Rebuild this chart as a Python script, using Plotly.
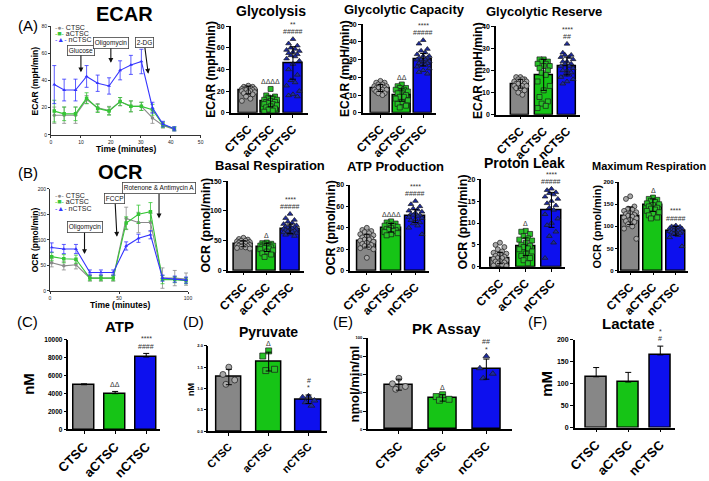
import plotly.graph_objects as go

W, H = 709, 481
FONT = "Arial, Liberation Sans, sans-serif"

groups = ["CTSC", "aCTSC", "nCTSC"]

# ---- (A) ECAR time course ----
ecar_time = [1.1, 4.4, 8.2, 11.9, 15.6, 19.4, 23.1, 26.7, 30.2, 33.9, 37.4, 41.2]
ecar_ctsc = [14.5, 14.5, 14.5, 26, 20, 18, 24.5, 21, 21, 12.5, 7, 4]
ecar_ctsc_err = [6, 6, 6, 3, 3, 3, 3, 4, 3, 4, 2, 1]
ecar_actsc = [17.5, 15.5, 15.5, 27, 19.5, 17.5, 24.5, 21, 21, 18.5, 7.5, 4.5]
ecar_actsc_err = [8, 5, 5, 4, 3, 3, 3, 4, 3, 4, 2, 1.5]
ecar_nctsc = [37, 33, 33, 43, 38, 36, 47.5, 51.5, 54, 20, 8, 4.5]
ecar_nctsc_err = [14, 8, 8, 8, 6, 6, 7, 7, 9, 4, 2, 1.5]
ecar_inj = ["Glucose", "Oligomycin", "2-DG"]
ecar_inj_time = [10, 20, 32.5]
ecar_inj_level = [46, 53, 45]

# ---- (B) OCR time course ----
ocr_time = [1.2, 10, 18.8, 28.9, 36.9, 45.8, 55.2, 64.1, 72.8, 81.5, 90.4, 98.6]
ocr_ctsc = [55, 49, 51, 25, 25, 25, 142, 134, 134, 25, 25, 23]
ocr_ctsc_err = [8, 8, 8, 6, 6, 6, 22, 20, 18, 20, 15, 12]
ocr_actsc = [67, 63, 62, 25, 25, 25, 133, 150, 155, 22, 22, 20]
ocr_actsc_err = [8, 8, 8, 5, 5, 5, 12, 18, 18, 8, 6, 6]
ocr_nctsc = [85, 82, 82, 36, 36, 36, 88, 103, 110, 25, 23, 21]
ocr_nctsc_err = [9, 9, 9, 5, 5, 5, 8, 8, 8, 6, 6, 6]
ocr_inj = ["Oligomycin", "FCCP", "Rotenone & Antimycin A"]
ocr_inj_time = [25, 48.5, 79]
ocr_inj_level = [72, 106, 142]

# ---- ECAR bar panels ----
glyco_mean = [21, 10.5, 46]
glyco_sd = [3.5, 5, 15]
glyco_ctsc = [25, 24, 24, 23, 23, 22, 22, 22, 21, 21, 21, 20, 20, 19, 19, 18, 17, 15, 13, 11]
glyco_actsc = [22, 16, 15, 14, 13, 12, 12, 11, 10, 10, 9, 8, 8, 7, 6, 5, 4, 3, 2, 1]
glyco_nctsc = [68, 64, 62, 60, 59, 58, 57, 56, 55, 54, 53, 52, 50, 48, 45, 40, 35, 30, 28, 25, 20, 17, 16, 15]
glyco_marks = ["", "ΔΔΔΔ", "**<br>#####"]

capac_mean = [14, 10, 30]
capac_sd = [2, 3.5, 3.5]
capac_ctsc = [18, 17, 17, 16, 16, 15, 15, 15, 14, 14, 14, 13, 13, 13, 12, 12, 11, 11, 10]
capac_actsc = [16, 15, 14, 14, 13, 13, 12, 11, 11, 10, 9, 9, 8, 7, 6, 5, 4, 3]
capac_nctsc = [41, 39, 36, 35, 34, 33, 32, 32, 31, 31, 30, 30, 30, 29, 29, 28, 28, 27, 27, 26, 25, 24, 23, 22]
capac_marks = ["", "ΔΔ", "****<br>#####"]

reserve_mean = [14, 18, 22]
reserve_sd = [2, 7, 4]
reserve_ctsc = [17, 17, 16, 16, 16, 15, 15, 15, 14, 14, 14, 13, 13, 13, 12, 12, 11, 10, 9]
reserve_actsc = [25, 25, 24, 24, 23, 23, 22, 22, 21, 20, 19, 18, 15, 13, 11, 8, 6, 5, 4, 3]
reserve_nctsc = [32, 28, 27, 27, 26, 26, 25, 24, 24, 23, 23, 22, 22, 21, 20, 20, 19, 18, 18, 17, 16, 15, 14]
reserve_marks = ["", "", "****<br>##"]

# ---- OCR bar panels ----
basal_mean = [45, 39, 70]
basal_sd = [5, 7, 8]
basal_ctsc = [55, 53, 52, 50, 50, 49, 48, 47, 47, 46, 45, 45, 44, 43, 42, 42, 41, 40, 39, 38, 37]
basal_actsc = [47, 46, 45, 44, 43, 42, 42, 41, 40, 39, 38, 37, 36, 34, 32, 29, 27, 23]
basal_nctsc = [95, 88, 85, 82, 80, 78, 76, 75, 74, 73, 72, 71, 70, 70, 69, 68, 67, 66, 65, 64, 63, 62, 60, 58]
basal_marks = ["", "Δ", "****<br>#####"]

atpprod_mean = [28, 40, 51]
atpprod_sd = [6, 4, 6]
atpprod_ctsc = [40, 38, 37, 36, 35, 34, 33, 32, 31, 30, 29, 29, 28, 27, 26, 25, 24, 23, 22, 21, 20, 12]
atpprod_actsc = [46, 45, 44, 43, 42, 42, 41, 40, 39, 38, 38, 37, 36, 35, 34, 33]
atpprod_nctsc = [65, 62, 60, 58, 57, 56, 55, 54, 53, 52, 52, 51, 50, 49, 48, 47, 45, 44, 42, 40, 34]
atpprod_marks = ["", "ΔΔΔΔ", "****<br>#####"]

leak_mean = [2, 4.6, 13]
leak_sd = [1.3, 2, 4]
leak_ctsc = [5.5, 5, 4.5, 4, 3.5, 3.2, 3, 2.8, 2.5, 2.3, 2, 2, 1.8, 1.5, 1.3, 1.2, 1, 0.8, 0.5, 0.3, 0.2]
leak_actsc = [8.2, 8, 7.5, 7, 6.5, 6.2, 6, 5.5, 5, 4.8, 4.5, 4.2, 4, 3.5, 3, 2.5, 2, 1.5, 0.8]
leak_nctsc = [17.8, 17.5, 17, 16.8, 16.5, 16, 15.5, 15, 14.5, 14, 13.5, 13, 12, 11, 10, 9.5, 8, 7, 5.5, 2]
leak_marks = ["", "Δ", "****<br>#####"]

maxresp_mean = [124, 148, 90]
maxresp_sd = [20, 14, 10]
maxresp_ctsc = [168, 162, 145, 140, 138, 135, 132, 130, 128, 126, 124, 122, 120, 118, 115, 112, 110, 105, 100, 95, 72]
maxresp_actsc = [165, 162, 160, 158, 155, 152, 150, 148, 145, 142, 140, 138, 135, 132, 128, 125, 120, 118]
maxresp_nctsc = [102, 100, 99, 98, 97, 96, 95, 94, 93, 92, 91, 90, 89, 88, 87, 86, 85, 83, 80, 75, 55]
maxresp_marks = ["", "Δ", "****<br>#####"]

# ---- bottom row ----
atp_mean = [5000, 4000, 8100]
atp_sd = [100, 250, 400]
atp_marks = ["", "ΔΔ", "****<br>####"]

pyr_mean = [1.27, 1.63, 0.75]
pyr_sd = [0.18, 0.22, 0.1]
pyr_ctsc = [1.5, 1.33, 1.2, 1.1]
pyr_actsc = [1.88, 1.76, 1.45, 1.42]
pyr_nctsc = [0.82, 0.8, 0.72, 0.68, 0.6]
pyr_marks = ["", "Δ", "#<br>*"]

pk_mean = [49, 34.5, 66]
pk_sd = [6, 3.5, 11]
pk_ctsc = [56, 50, 47, 44]
pk_actsc = [38, 36, 33, 32]
pk_nctsc = [80, 67, 61, 56]
pk_marks = ["", "Δ", "##<br>*"]

lac_mean = [116, 104, 166]
lac_sd = [21, 22, 20]
lac_marks = ["", "", "*<br>#"]

BAR_COL = ["#878787", "#16c416", "#0d10ee"]
PT_COL = ["#a9a9a9", "#27c227", "#1c2a9e"]
PT_SYM = ["circle", "square", "triangle-up"]
LINE_COL = ["#8a8a8a", "#36c636", "#3434ff"]
LINE_SYM = ["circle", "square", "triangle-up"]

fig = go.Figure()
layout = {}
annotations = []


def names(i):
    s = "" if i == 1 else str(i)
    return "x" + s, "y" + s, "xaxis" + s, "yaxis" + s


def xdom(a, b):
    return [a / W, b / W]


def ydom(top, bot):
    return [1 - bot / H, 1 - top / H]


def text(px, py, s, size, bold=False, angle=0, color="black"):
    annotations.append(dict(
        x=px / W, y=1 - py / H, xref="paper", yref="paper", text=s,
        showarrow=False, textangle=angle, xanchor="center", yanchor="middle",
        font=dict(family=FONT, size=size, color=color, weight=700 if bold else 400)))


def line_panel(i, box, xr, xdt, yr, ydt, t, ys, errs, inj, inj_t, inj_y, offs):
    left, right, top, bot = box
    xa, ya, xk, yk = names(i)
    for g in range(3):
        fig.add_trace(go.Scatter(
            x=t, y=ys[g], mode="lines+markers", xaxis=xa, yaxis=ya, showlegend=False,
            line=dict(color=LINE_COL[g], width=1.1),
            marker=dict(symbol=LINE_SYM[g], size=3.5, color=LINE_COL[g]),
            error_y=dict(type="data", array=errs[g], color=LINE_COL[g], thickness=0.8, width=2)))
    common = dict(showline=True, linecolor="#333", linewidth=0.8, ticks="outside", ticklen=2,
                  tickwidth=0.8, tickcolor="#333", showgrid=False, zeroline=False,
                  tickfont=dict(family=FONT, size=5, color="#222"))
    layout[xk] = dict(domain=xdom(left, right), range=xr, dtick=xdt, anchor=ya, **common)
    layout[yk] = dict(domain=ydom(top, bot), range=yr, dtick=ydt, anchor=xa, **common)
    for name, tx, ty, (ax, ay) in zip(inj, inj_t, inj_y, offs):
        annotations.append(dict(
            x=tx, y=ty, xref=xa, yref=ya, text=name, showarrow=True, arrowhead=2,
            arrowsize=0.9, arrowwidth=1.1, arrowcolor="#111", ax=ax, ay=ay,
            bordercolor="#444", borderwidth=0.8, borderpad=1, bgcolor="white",
            font=dict(family=FONT, size=6.5, color="#111")))


def legend_block(px, py, step):
    syms = ["●", "■", "▲"]
    for g in range(3):
        annotations.append(dict(
            x=px / W, y=1 - (py + g * step) / H, xref="paper", yref="paper", showarrow=False,
            xanchor="left", yanchor="middle",
            text="<span style='color:%s'>-%s-</span> %s" % (LINE_COL[g], syms[g], groups[g]),
            font=dict(family=FONT, size=7, color="#222")))


def spread(n, bw):
    pattern = [0, -0.55, 0.55, -0.27, 0.27, -0.8, 0.8]
    return [pattern[k % len(pattern)] * bw * 0.42 for k in range(n)]


def bar_panel(i, box, ymax, ydt, bw, means, sds, pts, marks, up_only=False,
              tick_size=7, cat_size=12, pt_size=5, mark_size=7, fmt="d"):
    left, right, c0, s, top, bot = box
    xa, ya, xk, yk = names(i)
    xs = [0, 1, 2]
    fig.add_trace(go.Bar(
        x=xs, y=means, width=bw, xaxis=xa, yaxis=ya, showlegend=False,
        marker=dict(color=BAR_COL, line=dict(color="black", width=1.5))))
    tops = [means[g] + sds[g] for g in range(3)]
    if pts:
        for g, vals in enumerate(pts):
            off = spread(len(vals), bw)
            fig.add_trace(go.Scatter(
                x=[g + o for o in off], y=vals, mode="markers", xaxis=xa, yaxis=ya,
                showlegend=False,
                marker=dict(symbol=PT_SYM[g], size=pt_size, color=PT_COL[g],
                            line=dict(color="#1a1a1a", width=0.7))))
            tops[g] = max(tops[g], max(vals))
    err = dict(type="data", array=sds, color="black", thickness=1, width=3)
    if up_only:
        err.update(symmetric=False, arrayminus=[0, 0, 0])
    fig.add_trace(go.Scatter(
        x=xs, y=means, mode="markers", marker=dict(size=1, opacity=0), xaxis=xa, yaxis=ya,
        showlegend=False, error_y=err, hoverinfo="skip"))
    for g in range(3):
        lines = marks[g].split("<br>") if marks[g] else []
        for k, line in enumerate(reversed(lines)):
            annotations.append(dict(
                x=g, y=tops[g] + 0.02 * ymax, xref=xa, yref=ya, text=line,
                showarrow=False, yanchor="bottom", xanchor="center", yshift=k * 7.5,
                font=dict(family=FONT, size=mark_size, color="#333")))
    nt = int(round(ymax / ydt))
    layout[xk] = dict(
        domain=xdom(left, right), range=[(left - c0) / s, (right - c0) / s], anchor=ya,
        tickvals=xs, ticktext=groups, tickangle=-45, showline=True, linecolor="black",
        linewidth=1.5, ticks="outside", ticklen=3, tickwidth=1.3, tickcolor="black",
        showgrid=False, zeroline=False,
        tickfont=dict(family=FONT, size=cat_size, color="black", weight=700))
    layout[yk] = dict(
        domain=ydom(top, bot), range=[0, ymax * 1.0005], anchor=xa, showline=True,
        tickvals=[k * ydt for k in range(nt + 1)], tickformat=fmt,
        linecolor="black", linewidth=1.5, ticks="outside", ticklen=3, tickwidth=1.3,
        tickcolor="black", showgrid=False, zeroline=False,
        tickfont=dict(family=FONT, size=tick_size, color="black", weight=700))


# line charts
line_panel(1, (36, 190, 23, 136), [0, 50], 10, [0, 80], 20, ecar_time,
           [ecar_ctsc, ecar_actsc, ecar_nctsc], [ecar_ctsc_err, ecar_actsc_err, ecar_nctsc_err],
           ecar_inj, ecar_inj_time, ecar_inj_level, [(0, -22), (0, -20), (-4, -31)])
line_panel(5, (35, 177, 192, 298), [0, 100], 50, [0, 200], 50, ocr_time,
           [ocr_ctsc, ocr_actsc, ocr_nctsc], [ocr_ctsc_err, ocr_actsc_err, ocr_nctsc_err],
           ocr_inj, ocr_inj_time, ocr_inj_level, [(0, -27), (-2, -38), (0, -30)])
legend_block(38, 24, 6.5)
legend_block(38, 199, 6.5)

# ECAR bars
bar_panel(2, (221, 300, 239, 23, 23, 113), 80, 20, 0.85, glyco_mean, glyco_sd,
          [glyco_ctsc, glyco_actsc, glyco_nctsc], glyco_marks)
bar_panel(3, (357, 432, 375, 22, 21, 113), 50, 10, 0.85, capac_mean, capac_sd,
          [capac_ctsc, capac_actsc, capac_nctsc], capac_marks)
bar_panel(4, (494, 580, 519, 24, 23, 115), 40, 10, 0.78, reserve_mean, reserve_sd,
          [reserve_ctsc, reserve_actsc, reserve_nctsc], reserve_marks)
# OCR bars
bar_panel(6, (218, 296, 234, 24, 184, 277), 150, 50, 0.82, basal_mean, basal_sd,
          [basal_ctsc, basal_actsc, basal_nctsc], basal_marks)
bar_panel(7, (344, 425, 361, 25, 188, 277), 80, 20, 0.8, atpprod_mean, atpprod_sd,
          [atpprod_ctsc, atpprod_actsc, atpprod_nctsc], atpprod_marks)
bar_panel(8, (479, 565, 498, 26.5, 182, 273), 20, 5, 0.74, leak_mean, leak_sd,
          [leak_ctsc, leak_actsc, leak_nctsc], leak_marks)
bar_panel(9, (621, 692, 632, 23.5, 185, 277), 200, 50, 0.8, maxresp_mean, maxresp_sd,
          [maxresp_ctsc, maxresp_actsc, maxresp_nctsc], maxresp_marks, tick_size=6)
# bottom row
bar_panel(10, (54, 148, 70, 32, 349, 442), 10000, 2000, 0.66, atp_mean, atp_sd, None,
          atp_marks, up_only=True, cat_size=13, tick_size=6.5)
bar_panel(11, (198, 320, 219, 41, 355, 444), 2.0, 0.5, 0.64, pyr_mean, pyr_sd,
          [pyr_ctsc, pyr_actsc, pyr_nctsc], pyr_marks, tick_size=4, cat_size=11, pt_size=6,
          fmt=".1f")
bar_panel(12, (362, 510, 394, 45, 347, 442), 100, 20, 0.64, pk_mean, pk_sd,
          [pk_ctsc, pk_actsc, pk_nctsc], pk_marks, tick_size=4, pt_size=6)
bar_panel(13, (575, 678, 597, 33, 349, 440), 200, 50, 0.64, lac_mean, lac_sd, None,
          lac_marks, up_only=True, cat_size=13)

# titles and axis titles
text(112, 10, "ECAR", 20, bold=True)
text(108, 175, "OCR", 20, bold=True)
text(12, 22, "(A)", 15)
text(12, 175, "(B)", 15)
text(12, 330, "(C)", 15)
text(183, 330, "(D)", 15)
text(336, 330, "(E)", 15)
text(537, 330, "(F)", 15)
for px, py, s, sz in [(262, 7, "Glycolysis", 14), (400, 6, "Glycolytic Capacity", 13),
                      (543, 8, "Glycolytic Reserve", 13), (261, 168, "Basal Respiration", 13),
                      (391, 169, "ATP Production", 13), (523, 165, "Proton Leak", 14),
                      (652, 168, "Maximum Respiration", 11), (107, 335, "ATP", 15),
                      (260, 341, "Pyruvate", 14), (443, 337, "PK Assay", 15),
                      (630, 332, "Lactate", 15)]:
    text(px, py, s, sz, bold=True)

text(20, 80, "ECAR (mpH/min)", 8.5, bold=True, angle=-90)
text(19, 245, "OCR (pmol/min)", 8.5, bold=True, angle=-90)
text(113, 151, "Time (minutes)", 8.5, bold=True)
text(107, 313, "Time (minutes)", 8.5, bold=True)
for px, py, s, sz in [(201, 68, "ECAR (mpH/min)", 12), (339, 67, "ECAR (mpH/min)", 12),
                      (476, 69, "ECAR (mpH/min)", 12), (196, 230, "OCR (pmol/min)", 12.5),
                      (324, 232, "OCR (pmol/min)", 12.5), (459, 227, "OCR (pmol/min)", 12.5),
                      (598, 231, "OCR (pmol/min)", 11), (13, 395, "nM", 15),
                      (180, 400, "nM", 9), (348, 395, "nmol/min/ml", 13),
                      (546, 395, "mM", 15)]:
    text(px, py, s, sz, bold=True, angle=-90)

fig.update_layout(
    width=W, height=H, margin=dict(l=0, r=0, t=0, b=0), autosize=False,
    paper_bgcolor="white", plot_bgcolor="white", bargap=0,
    font=dict(family=FONT, color="black"), annotations=annotations, **layout)

fig.write_html("out.html", config={"displayModeBar": False},
               post_script="document.body.style.margin='0';document.body.style.overflow='hidden';")
